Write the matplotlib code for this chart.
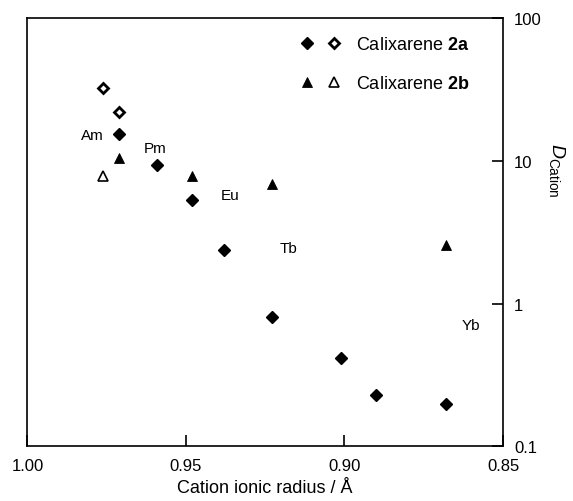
import matplotlib
matplotlib.use("Agg")
import matplotlib.pyplot as plt
from matplotlib.legend_handler import HandlerTuple
from matplotlib.ticker import FixedLocator, FixedFormatter, NullLocator

plt.rcParams['font.family'] = ['Liberation Sans', 'DejaVu Sans']
plt.rcParams['mathtext.fontset'] = 'custom'
plt.rcParams['mathtext.rm'] = 'Liberation Sans'
plt.rcParams['mathtext.it'] = 'Liberation Sans:italic'
plt.rcParams['mathtext.bf'] = 'Liberation Sans:bold'

# ---- data ----
radius_2a_filled = [0.971, 0.959, 0.948, 0.938, 0.923, 0.901, 0.890, 0.868]
D_2a_filled = [15.4, 9.35, 5.31, 2.38, 0.806, 0.418, 0.230, 0.198]
radius_2a_open = [0.976, 0.971]
D_2a_open = [32.2, 21.9]
radius_2b_filled = [0.971, 0.948, 0.923, 0.868]
D_2b_filled = [10.5, 7.83, 6.88, 2.57]
radius_2b_open = [0.976]
D_2b_open = [7.83]

element_labels = ['Am', 'Pm', 'Eu', 'Tb', 'Yb']
element_x = [0.9796, 0.9598, 0.9361, 0.9176, 0.8601]
element_y = [15.2, 12.3, 5.76, 2.46, 0.708]

x_ticks = [1.00, 0.95, 0.90, 0.85]
x_ticklabels = ['1.00', '0.95', '0.90', '0.85']
y_ticks = [0.1, 1, 10, 100]
y_ticklabels = ['0.1', '1', '10', '100']
legend_labels = [r'Calixarene $\mathbf{2a}$', r'Calixarene $\mathbf{2b}$']

# ---- figure ----
W, H = 573, 502
fig = plt.figure(figsize=(W / 100, H / 100), dpi=100)
L, R, T, B = 27.4, 503.0, 19.0, 447.4
ax = fig.add_axes([L / W, 1 - B / H, (R - L) / W, (B - T) / H])

ax.set_yscale('log')
ax.set_xlim(1.00, 0.85)
ax.set_ylim(0.1, 100)

hd_f, = ax.plot(radius_2a_filled, D_2a_filled, ls='none', marker='D', ms=6,
                mfc='black', mec='black', mew=1.0)
hd_o, = ax.plot(radius_2a_open, D_2a_open, ls='none', marker='D', ms=5.2,
                mfc='white', mec='black', mew=2.0)
ht_f, = ax.plot(radius_2b_filled, D_2b_filled, ls='none', marker='^', ms=7.8,
                mfc='black', mec='black', mew=0.6)
ht_o, = ax.plot(radius_2b_open, D_2b_open, ls='none', marker='^', ms=7.2,
                mfc='white', mec='black', mew=1.2)

for lab, xx, yy in zip(element_labels, element_x, element_y):
    ax.text(xx, yy, lab, fontsize=11, ha='center', va='center')

# axes styling
for s in ax.spines.values():
    s.set_linewidth(1.2)
ax.yaxis.tick_right()
ax.yaxis.set_major_locator(FixedLocator(y_ticks))
ax.yaxis.set_major_formatter(FixedFormatter(y_ticklabels))
ax.yaxis.set_minor_locator(NullLocator())
ax.xaxis.set_major_locator(FixedLocator(x_ticks))
ax.xaxis.set_major_formatter(FixedFormatter(x_ticklabels))
ax.xaxis.set_minor_locator(NullLocator())
ax.tick_params(axis='both', direction='in', length=8, width=1.2, labelsize=12)
ax.tick_params(axis='x', pad=8)
ax.tick_params(axis='y', pad=8)

ax.set_xlabel('Cation ionic radius / Å', fontsize=13, labelpad=5)
ax.text(1.1135, 0.6475, r'$D_{\mathrm{Cation}}$', transform=ax.transAxes,
        rotation=-90, ha='center', va='center', fontsize=14)

leg = ax.legend([(hd_f, hd_o), (ht_f, ht_o)], legend_labels,
                handler_map={tuple: HandlerTuple(ndivide=None, pad=0.595)},
                loc='upper left', bbox_to_anchor=(0.5715, 0.958),
                frameon=False, fontsize=13, handlelength=2.395,
                handletextpad=0.768, labelspacing=1.22, borderpad=0,
                borderaxespad=0, numpoints=1)

fig.savefig('out.png', dpi=100)
